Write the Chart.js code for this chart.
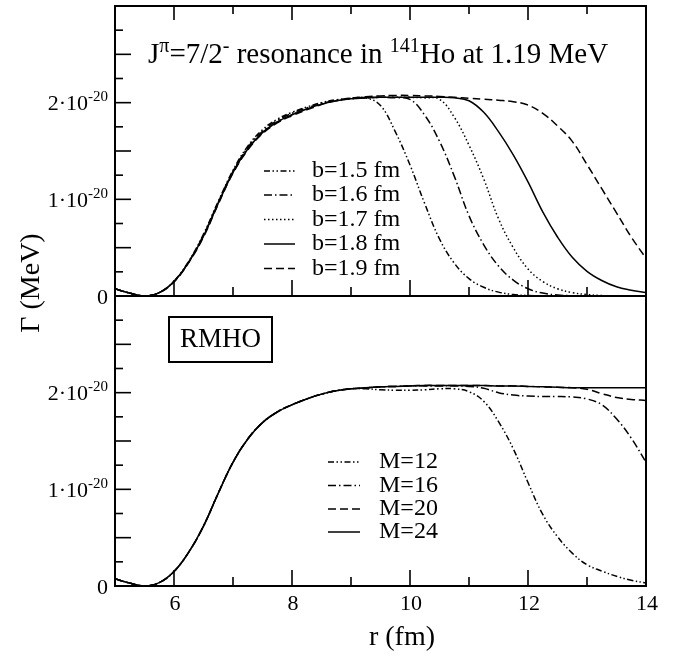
<!DOCTYPE html>
<html>
<head>
<meta charset="utf-8">
<title>Width of the 7/2- resonance in 141Ho</title>
<script src="https://cdn.jsdelivr.net/npm/chart.js@4.4.1/dist/chart.umd.min.js"></script>
<style>
html, body { margin:0; padding:0; background:#ffffff; }
#wrap { position:relative; width:677px; height:656px; }
#wrap canvas { position:absolute; left:0; top:0; }
</style>
</head>
<body>
<div id="wrap">
<canvas id="topPanel" width="677" height="656"></canvas>
<canvas id="bottomPanel" width="677" height="656"></canvas>
</div>
<script>
// ---------------- data: r in fm, Γ in units of 10^-20 MeV ----------------
const rValues = [5, 5.25, 5.5, 5.75, 6, 6.25, 6.5, 6.75, 7, 7.25, 7.5, 7.75, 8, 8.25, 8.5, 8.75, 9,
  9.25, 9.5, 9.75, 10, 10.25, 10.5, 10.75, 11, 11.25, 11.5, 11.75, 12, 12.25, 12.5, 12.75, 13, 13.25, 13.5, 13.75, 14];

const yTickLabelValues = [0, 1, 2];
const yTickExponent = '-20';
const xTickLabelValues = [6, 8, 10, 12, 14];

// top panel: oscillator length b
const topLabels = ['b=1.5 fm', 'b=1.6 fm', 'b=1.7 fm', 'b=1.8 fm', 'b=1.9 fm'];
const gammaB15 = [0.075, 0.03, 0.0, 0.035, 0.155, 0.36, 0.64, 0.98, 1.30, 1.55, 1.72, 1.83, 1.90, 1.955, 2.0, 2.03, 2.045,
  2.05, 1.97, 1.70, 1.355, 0.955, 0.59, 0.34, 0.18, 0.09, 0.04, 0.015, 0.005, 0, 0, 0, 0, 0, 0, 0, 0];
const gammaB16 = [0.075, 0.03, 0.0, 0.035, 0.15, 0.355, 0.63, 0.97, 1.29, 1.535, 1.705, 1.815, 1.89, 1.945, 1.99, 2.025, 2.045,
  2.05, 2.055, 2.05, 2.035, 1.87, 1.60, 1.24, 0.83, 0.53, 0.31, 0.165, 0.075, 0.03, 0.01, 0.003, 0, 0, 0, 0, 0];
const gammaB17 = [0.075, 0.03, 0.0, 0.035, 0.15, 0.35, 0.62, 0.96, 1.28, 1.52, 1.69, 1.80, 1.875, 1.935, 1.985, 2.02, 2.04,
  2.05, 2.055, 2.055, 2.055, 2.05, 2.035, 1.85, 1.56, 1.21, 0.80, 0.50, 0.28, 0.15, 0.075, 0.035, 0.015, 0.005, 0, 0, 0];
const gammaB18 = [0.075, 0.03, 0.0, 0.035, 0.15, 0.35, 0.62, 0.96, 1.28, 1.52, 1.69, 1.80, 1.875, 1.935, 1.985, 2.02, 2.04,
  2.05, 2.055, 2.055, 2.055, 2.055, 2.055, 2.05, 2.02, 1.90, 1.70, 1.46, 1.18, 0.87, 0.61, 0.40, 0.255, 0.16, 0.095, 0.06, 0.035];
const gammaB19 = [0.075, 0.03, 0.0, 0.035, 0.145, 0.345, 0.61, 0.95, 1.27, 1.51, 1.68, 1.79, 1.865, 1.925, 1.98, 2.02, 2.045,
  2.06, 2.07, 2.075, 2.075, 2.07, 2.065, 2.055, 2.045, 2.035, 2.025, 2.01, 1.975, 1.89, 1.76, 1.60, 1.36, 1.11, 0.86, 0.61, 0.39];

// bottom panel: number of oscillator quanta M (RMHO)
const bottomLabels = ['M=12', 'M=16', 'M=20', 'M=24'];
const gammaM12 = [0.075, 0.03, 0.0, 0.035, 0.15, 0.35, 0.62, 0.96, 1.28, 1.52, 1.69, 1.80, 1.875, 1.935, 1.985, 2.02, 2.04,
  2.04, 2.03, 2.025, 2.025, 2.03, 2.04, 2.04, 2.01, 1.91, 1.70, 1.42, 1.07, 0.74, 0.51, 0.34, 0.22, 0.155, 0.10, 0.06, 0.03];
const gammaM16 = [0.075, 0.03, 0.0, 0.035, 0.15, 0.35, 0.62, 0.96, 1.28, 1.52, 1.69, 1.80, 1.875, 1.935, 1.985, 2.02, 2.04,
  2.05, 2.06, 2.065, 2.07, 2.07, 2.07, 2.07, 2.065, 2.045, 2.0, 1.975, 1.965, 1.96, 1.96, 1.955, 1.935, 1.875, 1.73, 1.53, 1.28];
const gammaM20 = [0.075, 0.03, 0.0, 0.035, 0.15, 0.35, 0.62, 0.96, 1.28, 1.52, 1.69, 1.80, 1.875, 1.935, 1.985, 2.02, 2.04,
  2.05, 2.06, 2.065, 2.07, 2.075, 2.075, 2.075, 2.075, 2.075, 2.07, 2.07, 2.065, 2.06, 2.055, 2.05, 2.035, 1.99, 1.95, 1.93, 1.92];
const gammaM24 = [0.075, 0.03, 0.0, 0.035, 0.15, 0.35, 0.62, 0.96, 1.28, 1.52, 1.69, 1.80, 1.875, 1.935, 1.985, 2.02, 2.04,
  2.05, 2.06, 2.065, 2.07, 2.075, 2.075, 2.075, 2.075, 2.075, 2.07, 2.07, 2.065, 2.06, 2.055, 2.05, 2.05, 2.05, 2.05, 2.05, 2.05];

// ---------------- styles ----------------
const DASH_DDOT = [6, 2.5, 1.5, 2.5, 1.5, 2.5];
const DASH_DOT = [8, 3, 1.5, 3];
const DASH_DOTTED = [1.5, 2.5];
const DASH_SOLID = [];
const DASH_DASHED = [8, 4];
const topDashes = [DASH_DDOT, DASH_DOT, DASH_DOTTED, DASH_SOLID, DASH_DASHED];
const bottomDashes = [DASH_DDOT, DASH_DOT, DASH_DASHED, DASH_SOLID];

const SERIF = '"Liberation Serif", "Times New Roman", Times, serif';
const font = px => px + 'px ' + SERIF;

function drawRich(ctx, parts, x, y, align, size, supSize, raise) {
  let total = 0;
  const widths = parts.map(p => {
    ctx.font = font(p.sup ? supSize : size);
    const w = ctx.measureText(p.t).width;
    total += w;
    return w;
  });
  let cx = align === 'right' ? x - total : (align === 'center' ? x - total / 2 : x);
  ctx.textAlign = 'left';
  ctx.textBaseline = 'alphabetic';
  parts.forEach((p, i) => {
    ctx.font = font(p.sup ? supSize : size);
    ctx.fillText(p.t, cx, p.sup ? y - raise : y);
    cx += widths[i];
  });
}

function makeDecor(id, cfg) {
  return {
    id: id,
    afterDatasetsDraw(chart) {
      const ctx = chart.ctx;
      const ca = chart.chartArea;
      const xs = chart.scales.x, ys = chart.scales.y;
      ctx.save();
      ctx.strokeStyle = '#000';
      ctx.fillStyle = '#000';
      ctx.setLineDash([]);
      // inward tick marks
      ctx.lineWidth = 1.6;
      xs.ticks.forEach(t => {
        const v = t.value;
        if (v <= xs.min || v >= xs.max) return;
        const px = xs.getPixelForValue(v);
        const major = Math.abs(v % 2) < 1e-9;
        ctx.beginPath();
        ctx.moveTo(px, ca.bottom);
        ctx.lineTo(px, ca.bottom - (major ? 16 : 9));
        if (cfg.topTicks) {
          ctx.moveTo(px, ca.top);
          ctx.lineTo(px, ca.top + (major ? 14 : 8));
        }
        ctx.stroke();
      });
      ys.ticks.forEach(t => {
        const v = t.value;
        if (v <= ys.min || v >= ys.max) return;
        const py = ys.getPixelForValue(v);
        const major = Math.abs(v * 2 - Math.round(v * 2)) < 1e-9;
        ctx.beginPath();
        ctx.moveTo(ca.left, py);
        ctx.lineTo(ca.left + (major ? 16 : 8), py);
        ctx.stroke();
      });
      // frame
      ctx.lineWidth = 2;
      ctx.strokeRect(ca.left, ca.top, ca.right - ca.left, ca.bottom - ca.top);
      // y tick labels
      yTickLabelValues.forEach(v => {
        const py = ys.getPixelForValue(v);
        const parts = v === 0 ? [{t: '0'}] : [{t: v + '\u00B710'}, {t: yTickExponent, sup: true}];
        drawRich(ctx, parts, ca.left - 7, py + 7.5, 'right', 22, 15, 9);
      });
      // x tick labels
      if (cfg.xLabels) {
        ctx.font = font(22);
        ctx.textAlign = 'center';
        ctx.textBaseline = 'alphabetic';
        xTickLabelValues.forEach(v => {
          ctx.fillText(String(v), xs.getPixelForValue(v) + 1, ca.bottom + 24);
        });
      }
      // legend (from the datasets themselves)
      const lg = cfg.legend;
      chart.data.datasets.forEach((ds, i) => {
        const y = lg.rows[i];
        ctx.lineWidth = 1.5;
        ctx.setLineDash(ds.borderDash || []);
        ctx.beginPath();
        ctx.moveTo(lg.x1, y);
        ctx.lineTo(lg.x2, y);
        ctx.stroke();
        ctx.setLineDash([]);
        ctx.font = font(24);
        ctx.textAlign = 'left';
        ctx.textBaseline = 'middle';
        ctx.fillText(ds.label, lg.tx, y);
      });
      if (cfg.extra) cfg.extra(ctx, chart);
      ctx.restore();
    }
  };
}

function makeDatasets(labels, series, dashes) {
  return labels.map((lab, i) => ({
    label: lab,
    data: rValues.map((r, j) => ({x: r, y: series[i][j]})),
    borderColor: '#000',
    borderWidth: 1.5,
    borderDash: dashes[i],
    pointRadius: 0,
    fill: false,
    tension: 0.4,
    cubicInterpolationMode: 'default'
  }));
}

function baseOptions(padding) {
  return {
    responsive: false,
    animation: false,
    devicePixelRatio: 1,
    layout: {padding: padding},
    plugins: {legend: {display: false}, tooltip: {enabled: false}, title: {display: false}},
    scales: {
      x: {type: 'linear', min: 5, max: 14, ticks: {display: false, stepSize: 1},
          grid: {display: false}, border: {display: false}, afterFit(s) { s.height = 0; }},
      y: {type: 'linear', min: 0, max: 3, ticks: {display: false, stepSize: 0.25},
          grid: {display: false}, border: {display: false}, afterFit(s) { s.width = 0; }}
    }
  };
}

// ---------------- top panel ----------------
new Chart(document.getElementById('topPanel'), {
  type: 'line',
  data: {datasets: makeDatasets(topLabels, [gammaB15, gammaB16, gammaB17, gammaB18, gammaB19], topDashes)},
  options: baseOptions({left: 115, right: 31, top: 6, bottom: 360}),
  plugins: [makeDecor('decorTop', {
    topTicks: true,
    xLabels: false,
    legend: {x1: 264, x2: 295, tx: 312, rows: [171, 195, 219.5, 244, 268.5]},
    extra(ctx) {
      ctx.fillStyle = '#000';
      drawRich(ctx, [
        {t: 'J'}, {t: '\u03C0', sup: true}, {t: '=7/2'}, {t: '-', sup: true},
        {t: ' resonance in '}, {t: '141', sup: true}, {t: 'Ho at 1.19 MeV'}
      ], 148, 63, 'left', 29, 20, 11);
    }
  })]
});

// ---------------- bottom panel ----------------
new Chart(document.getElementById('bottomPanel'), {
  type: 'line',
  data: {datasets: makeDatasets(bottomLabels, [gammaM12, gammaM16, gammaM20, gammaM24], bottomDashes)},
  options: baseOptions({left: 115, right: 31, top: 296, bottom: 70}),
  plugins: [makeDecor('decorBottom', {
    topTicks: false,
    xLabels: true,
    legend: {x1: 328, x2: 360, tx: 379, rows: [462, 485.5, 509, 532]},
    extra(ctx, chart) {
      // RMHO box
      ctx.lineWidth = 2;
      ctx.strokeRect(169, 317, 103, 45);
      ctx.font = font(27);
      ctx.textAlign = 'center';
      ctx.textBaseline = 'middle';
      ctx.fillText('RMHO', 220.5, 340);
      // x axis title
      ctx.font = font(28);
      ctx.textBaseline = 'alphabetic';
      ctx.fillText('r (fm)', 402, 645);
      // y axis title
      ctx.save();
      ctx.translate(38.5, 283);
      ctx.rotate(-Math.PI / 2);
      ctx.font = font(28);
      ctx.textAlign = 'center';
      ctx.textBaseline = 'alphabetic';
      ctx.fillText('\u0393 (MeV)', 0, 0);
      ctx.restore();
    }
  })]
});
</script>
</body>
</html>
